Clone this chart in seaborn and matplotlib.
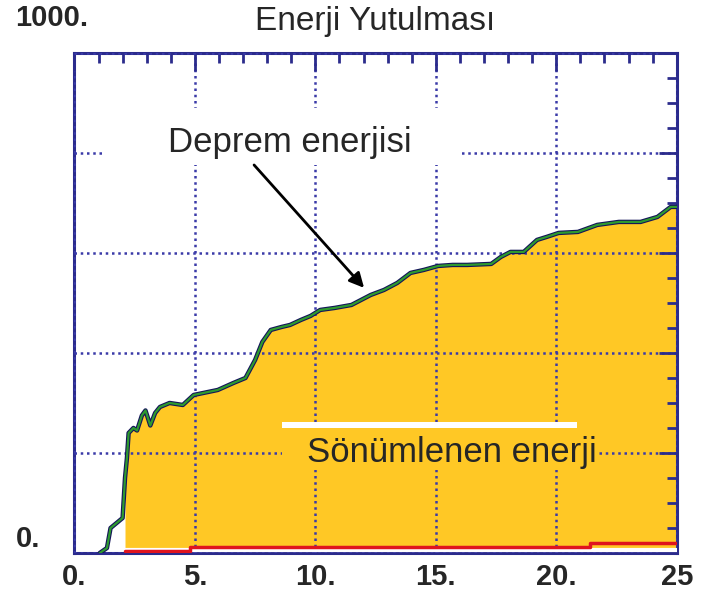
import matplotlib
matplotlib.use('Agg')
import matplotlib.pyplot as plt
import numpy as np
import pandas as pd
import seaborn as sns
from matplotlib.patches import Rectangle

# values
time_s = [1.05, 1.35, 1.5, 1.75, 2.0, 2.1, 2.18, 2.25, 2.45, 2.6, 2.8, 2.95, 3.15,
          3.35, 3.55, 3.95, 4.5, 4.95, 5.35, 5.95, 6.6, 7.1, 7.5, 7.8, 8.15, 8.6,
          8.95, 9.4, 9.8, 10.2, 10.8, 11.5, 12.3, 12.85, 13.4, 13.95, 14.5, 15.1,
          15.7, 16.3, 17.3, 17.7, 18.1, 18.65, 19.2, 19.6, 20.1, 20.9, 21.7, 22.6,
          23.5, 24.2, 24.75, 25.0]
input_energy = [0, 10, 50, 60, 70, 150, 190, 240, 250, 245, 275, 285, 255,
                280, 292, 300, 296, 316, 320, 326, 340, 350, 386, 422, 446, 452,
                456, 466, 474, 486, 490, 496, 516, 526, 540, 560, 566, 574,
                576, 576, 578, 592, 602, 602, 626, 632, 640, 642, 656, 662,
                662, 672, 692, 692]

damping_time = [2.1, 4.8, 21.4, 25.0]
damping_energy = [4, 12, 20, 20]

strain_time = [2.1, 25.0]
strain_energy = [6, 6]

x_ticks = [0, 5, 10, 15, 20, 25]
x_tick_labels = ['0.', '5.', '10.', '15.', '20.', '25']

title = 'Enerji Yutulması'
input_label = 'Deprem enerjisi'
damping_label = 'Sönümlenen enerji'

FILL = '#FFC825'
NAVY = '#2b2b8c'
GRID = '#3a3aa8'
NUM_FONT = ['Liberation Sans Narrow', 'Liberation Sans', 'DejaVu Sans']

sns.set_style('white')
plt.rcParams['font.family'] = ['Liberation Sans', 'DejaVu Sans']

df = pd.DataFrame({'time': time_s, 'energy': input_energy})
t = np.array(time_s)
e = np.array(input_energy)

fig = plt.figure(figsize=(7.02, 5.94), dpi=100)
ax = fig.add_axes([0.106, 0.069, 0.858, 0.842])

# filled area under the input energy curve
ax.fill_between(t, 0, e, where=t >= 2.1, color=FILL, lw=0, zorder=1)

# input energy curve: dark line with green on top
sns.lineplot(data=df, x='time', y='energy', ax=ax, color='#14145a', lw=3.2,
             estimator=None, zorder=3)
sns.lineplot(data=df, x='time', y='energy', ax=ax, color='#2e9a2e', lw=1.6,
             estimator=None, zorder=3.1)

# strain and damping energy near the bottom
ax.plot(strain_time, strain_energy, color='white', lw=3, zorder=3)
ax.step(damping_time, damping_energy, where='post', color='#e0141e', lw=2.5, zorder=3.2)

ax.set_xlim(0, 25)
ax.set_ylim(0, 1000)
ax.set_xlabel('')
ax.set_ylabel('')

# dotted grid drawn over the fill
ax.set_axisbelow(False)
ax.set_xticks(x_ticks)
ax.set_xticklabels(x_tick_labels, fontsize=21, fontweight='bold', family=NUM_FONT)
ax.set_yticks([0, 200, 400, 600, 800, 1000])
ax.set_yticklabels([])
ax.set_xticks(np.arange(0, 26, 1), minor=True)
ax.set_yticks(np.arange(0, 1001, 50), minor=True)
ax.grid(True, which='major', color=GRID, linestyle=(0, (1, 1.5)), lw=1.8)
ax.tick_params(which='both', direction='in', top=True, right=True, color=NAVY, width=2)
ax.tick_params(which='major', length=13, pad=7)
ax.tick_params(which='minor', length=7)
for sp in ax.spines.values():
    sp.set_color(NAVY)
    sp.set_linewidth(2.2)

# white box hiding the original legend entry
ax.add_patch(Rectangle((0.05, 0.776), 0.59, 0.114, transform=ax.transAxes,
                       facecolor='white', edgecolor='none', zorder=4))
ax.text(8.95, 820, input_label, fontsize=25, ha='center', va='center', zorder=5)
ax.annotate('', xy=(12.1, 526), xytext=(7.38, 780),
            arrowprops=dict(arrowstyle='-|>', color='black', lw=2, mutation_scale=22),
            zorder=5)

# yellow box for the damping label, with a white bar on top
ax.add_patch(Rectangle((0.345, 0.166), 0.523, 0.09, transform=ax.transAxes,
                       facecolor=FILL, edgecolor='none', zorder=4))
ax.add_patch(Rectangle((0.345, 0.25), 0.49, 0.012, transform=ax.transAxes,
                       facecolor='white', edgecolor='none', zorder=4))
ax.text(15.65, 200, damping_label, fontsize=25, ha='center', va='center', zorder=5)

# title and the two y labels placed like the original
fig.text(0.534, 0.964, title, fontsize=24, ha='center', va='center')
fig.text(0.021, 0.97, '1000.', fontsize=21, fontweight='bold', ha='left', va='center',
         family=NUM_FONT)
fig.text(0.022, 0.092, '0.', fontsize=21, fontweight='bold', ha='left', va='center',
         family=NUM_FONT)

fig.savefig('out.png', dpi=100)
